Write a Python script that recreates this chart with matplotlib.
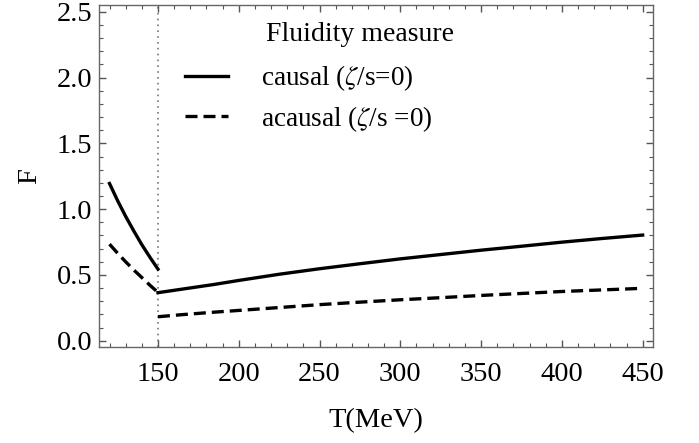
import numpy as np
import matplotlib
matplotlib.use("Agg")
import matplotlib.pyplot as plt
from matplotlib.ticker import MultipleLocator

plt.rcParams['font.family'] = ['Liberation Serif', 'DejaVu Serif']
plt.rcParams['mathtext.fontset'] = 'stix'

# hadronic branch (T <= 150 MeV)
T_low = [120, 125, 130, 135, 140, 145, 150]
F_causal_low = [1.195, 1.065, 0.945, 0.835, 0.730, 0.635, 0.544]
F_acausal_low = [0.734, 0.665, 0.600, 0.538, 0.480, 0.422, 0.367]

# QGP branch (T >= 150 MeV)
T_high = [150, 165, 185, 200, 225, 250, 275, 300, 325, 350, 375, 400, 425, 450]
F_causal_high = [0.365, 0.392, 0.428, 0.458, 0.505, 0.547, 0.585, 0.622, 0.655, 0.688,
                 0.718, 0.749, 0.777, 0.803]
F_acausal_high = [0.182, 0.198, 0.217, 0.230, 0.252, 0.274, 0.293, 0.311, 0.327, 0.344,
                  0.359, 0.374, 0.386, 0.398]

T_c = 150

fig = plt.figure(figsize=(6.99, 4.43), dpi=100)
ax = fig.add_axes([99 / 699, 1 - 347 / 443, 554 / 699, 342 / 443])

dash = (0, (3.6, 1.8))
ax.axvline(T_c, color='#777777', linestyle=(0, (1, 2.5)), lw=1.2, zorder=1)
l1, = ax.plot(T_low, F_causal_low, color='black', lw=2.4, label=r'causal ($\zeta$/s=0)')
ax.plot(T_high, F_causal_high, color='black', lw=2.4)
l2, = ax.plot(T_low, F_acausal_low, color='black', lw=2.4, linestyle=dash,
              label=r'acausal ($\zeta$/s =0)')
ax.plot(T_high, F_acausal_high, color='black', lw=2.4, linestyle=dash)

ax.set_xlim(113.5, 456.4)
ax.set_ylim(-0.048, 2.552)
ax.xaxis.set_major_locator(MultipleLocator(50))
ax.xaxis.set_minor_locator(MultipleLocator(10))
ax.yaxis.set_major_locator(MultipleLocator(0.5))
ax.yaxis.set_minor_locator(MultipleLocator(0.1))
ax.yaxis.set_major_formatter(matplotlib.ticker.FormatStrFormatter('%.1f'))

for s in ax.spines.values():
    s.set_color('#666666')
    s.set_linewidth(1.0)
ax.tick_params(which='both', direction='in', top=True, right=True, color='#555555',
               labelsize=20.5)
ax.tick_params(axis='x', which='major', length=5, width=1.0, pad=11)
ax.tick_params(axis='y', which='major', length=5, width=1.0, pad=5)
ax.tick_params(which='minor', length=3, width=0.8)

ax.set_xlabel('T(MeV)', fontsize=20.5, labelpad=15)
ax.set_ylabel('F', fontsize=20.5, labelpad=10)

ax.text(0.302, 0.915, 'Fluidity measure', transform=ax.transAxes,
        fontsize=20, ha='left', va='center')
ax.legend(handles=[l1, l2], loc='center left', bbox_to_anchor=(0.155, 0.727),
          frameon=False, fontsize=19.5, borderpad=0, borderaxespad=0,
          handlelength=1.6, handletextpad=1.2, labelspacing=0.4)

fig.savefig('out.png', dpi=100)
